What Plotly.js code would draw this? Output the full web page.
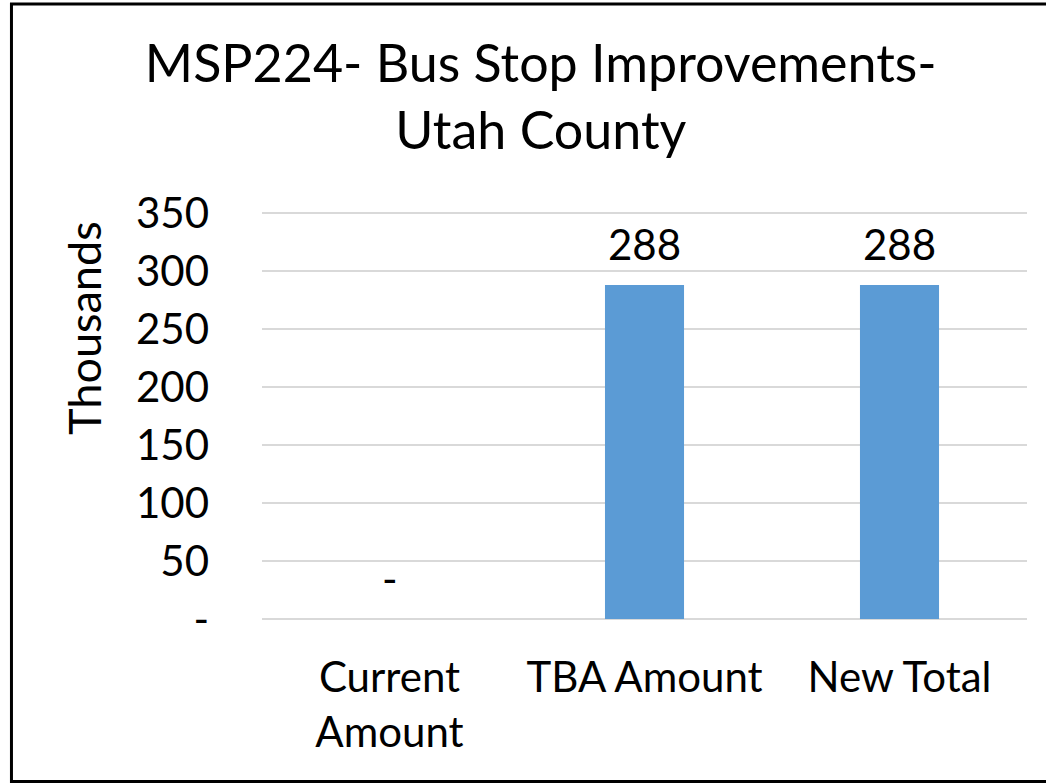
<!DOCTYPE html>
<html>
<head>
<meta charset="utf-8">
<script src="https://cdn.plot.ly/plotly-3.0.1.min.js"></script>
<style>
  html, body { margin: 0; padding: 0; background: #ffffff; }
  #chart { width: 1046px; height: 784px; }
</style>
</head>
<body>
<div id="chart"></div>
<script>
// ---- data ----
const categories = ["Current<br>Amount", "TBA Amount", "New Total"];
const values = [0, 288, 288];
const valueLabels = ["-", "288", "288"];
const tickValues = [0, 50, 100, 150, 200, 250, 300, 350];
const tickLabels = ["-", "50", "100", "150", "200", "250", "300", "350"];
const chartTitle = "MSP224- Bus Stop Improvements-<br>Utah County";
const yTitle = "Thousands";

const FONT = "Lato, 'Open Sans', sans-serif";

const trace = {
  type: "bar",
  x: categories,
  y: values,
  marker: { color: "#5b9bd5" },
  hoverinfo: "skip"
};

const annotations = categories.map((c, i) => ({
  x: c,
  y: values[i],
  xref: "x",
  yref: "y",
  text: valueLabels[i],
  showarrow: false,
  yanchor: "bottom",
  yshift: 14,
  font: { family: FONT, size: 42, color: "#000000" }
}));

annotations.push({
  xref: "paper",
  yref: "paper",
  x: -0.232,
  y: 0.714,
  text: yTitle,
  textangle: -90,
  showarrow: false,
  xanchor: "center",
  yanchor: "middle",
  font: { family: FONT, size: 45, color: "#000000" }
});

const layout = {
  width: 1046,
  height: 784,
  paper_bgcolor: "#ffffff",
  plot_bgcolor: "#ffffff",
  margin: { l: 262, r: 19, t: 212, b: 165, pad: 0 },
  showlegend: false,
  bargap: 0.69,
  title: {
    text: chartTitle,
    x: 0.517,
    xref: "container",
    xanchor: "center",
    y: 0.896,
    yref: "container",
    yanchor: "top",
    font: { family: FONT, size: 52, color: "#000000" }
  },
  xaxis: {
    type: "category",
    showgrid: false,
    zeroline: false,
    showline: false,
    ticks: "",
    ticklabelstandoff: 30,
    tickfont: { family: FONT, size: 42, color: "#000000" }
  },
  yaxis: {
    range: [0, 351],
    tickvals: tickValues,
    ticktext: tickLabels,
    showgrid: true,
    gridcolor: "#d9d9d9",
    gridwidth: 2,
    zeroline: true,
    zerolinecolor: "#d9d9d9",
    zerolinewidth: 2,
    showline: false,
    ticks: "",
    ticklabelstandoff: 52,
    tickfont: { family: FONT, size: 42, color: "#000000" }
  },
  annotations: annotations,
  shapes: [{
    type: "rect",
    xref: "paper",
    yref: "paper",
    x0: -0.3275,
    x1: 1.045,
    y0: -0.399,
    y1: 1.511,
    line: { color: "#000000", width: 3 },
    fillcolor: "rgba(0,0,0,0)"
  }]
};

Plotly.newPlot("chart", [trace], layout, { displayModeBar: false, staticPlot: true });
</script>
</body>
</html>
